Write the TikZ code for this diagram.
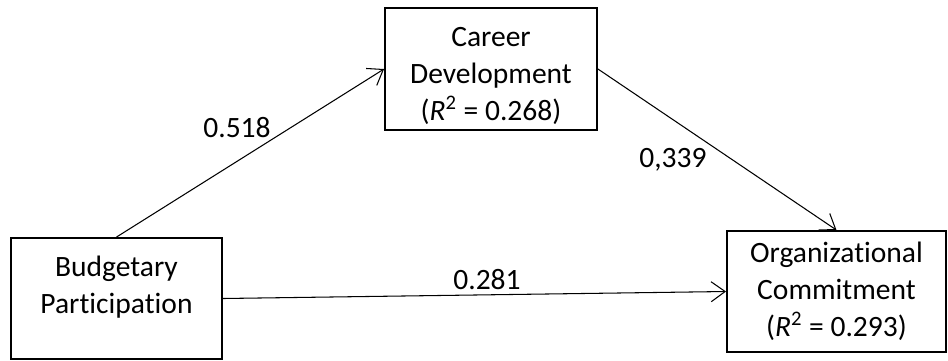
\documentclass[tikz,border=0pt]{standalone}
\usepackage{fontspec}
\setmainfont[Ligatures=NoCommon]{Carlito}
\usetikzlibrary{arrows.meta, positioning}

\begin{document}
\begin{tikzpicture}[x=0.02cm, y=-0.02cm, >={Straight Barb[length=2.8mm, width=4mm]},
    box/.style={draw, line width=1.1pt, align=center, inner sep=0pt,
                font=\fontsize{16.8}{21}\selectfont},
    path/.style={->, line width=0.6pt},
    coef/.style={font=\fontsize{16.8}{21}\selectfont}]
    \useasboundingbox (0,0) rectangle (948,360);

    % Các khối biến
    \node[box, minimum width=4.22cm, minimum height=2.42cm] (bp) at (116.5,298.5)
        {\rule{0pt}{17pt}Budgetary\\Participation\\\mbox{}};
    \node[box, minimum width=4.24cm, minimum height=2.44cm] (cd) at (491,69)
        {\rule{0pt}{18.8pt}Career\\Development\\(\textit{R}\textsuperscript{2} = 0.268)};
    \node[box, minimum width=4.38cm, minimum height=2.42cm] (oc) at (836.5,291.5)
        {Organizational\\Commitment\\(\textit{R}\textsuperscript{2} = 0.293)};

    % Các đường tác động
    \draw[path] (bp.north) -- (cd.west);
    \draw[path] (cd.east) -- (oc.north);
    \draw[path] (bp.east) -- (oc.west);

    % Hệ số đường dẫn
    \node[coef] (c1) at (237,128) {0.518};
    \node[coef] (c2) at (673,160) {0,339};
    \node[coef] (c3) at (487,280) {0.281};
\end{tikzpicture}
\end{document}
